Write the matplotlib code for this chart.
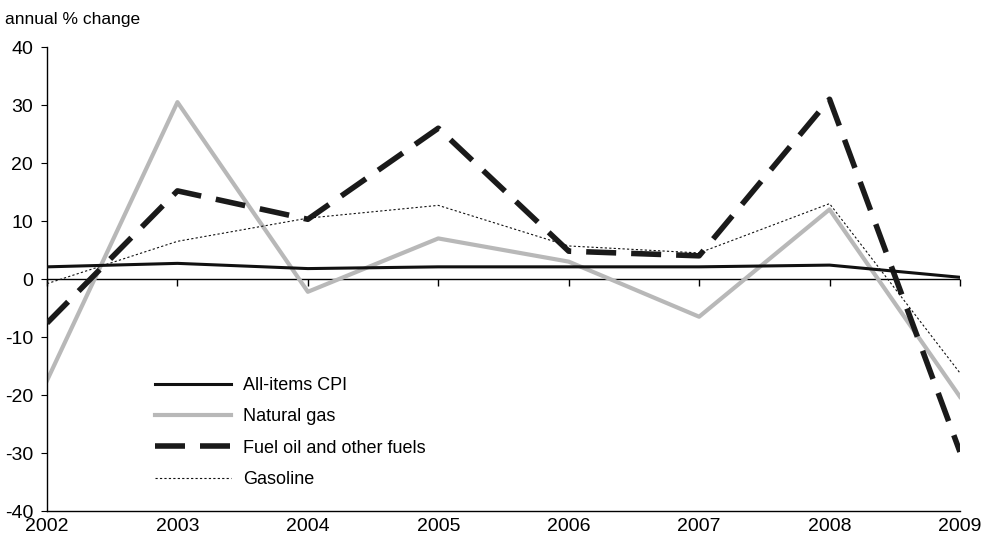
import matplotlib
matplotlib.use("Agg")
import matplotlib.pyplot as plt
from matplotlib import font_manager

years = [2002, 2003, 2004, 2005, 2006, 2007, 2008, 2009]
cpi = [2.1, 2.7, 1.8, 2.1, 2.1, 2.1, 2.4, 0.3]
natural_gas = [-17.5, 30.5, -2.2, 7.0, 3.0, -6.5, 12.0, -20.3]
fuel_oil = [-7.6, 15.2, 10.3, 26.0, 4.8, 4.0, 31.0, -29.8]
gasoline = [-0.8, 6.5, 10.5, 12.7, 5.7, 4.5, 13.0, -16.2]
yticks = [-40, -30, -20, -10, 0, 10, 20, 30, 40]

names = {f.name for f in font_manager.fontManager.ttflist}
fam = "Liberation Sans Narrow" if "Liberation Sans Narrow" in names else "Liberation Sans"
plt.rcParams['font.family'] = [fam, 'DejaVu Sans']
plt.rcParams['axes.unicode_minus'] = False

fig = plt.figure(figsize=(9.92, 5.47), dpi=100)
ax = fig.add_axes([0.0474, 0.0658, 0.9203, 0.8482])

ax.plot(years, cpi, color='#111111', lw=2.2, label='All-items CPI', zorder=4)
ax.plot(years, natural_gas, color='#b8b8b8', lw=3.0, label='Natural gas', zorder=2)
ax.plot(years, fuel_oil, color='#1a1a1a', lw=4.0, dashes=(5.4, 2.7), label='Fuel oil and other fuels', zorder=3)
ax.plot(years, gasoline, color='#111111', lw=0.8, dashes=(2.0, 2.0), label='Gasoline', zorder=3)

ax.axhline(0, color='black', lw=1.0, zorder=1)

ax.set_xlim(2002, 2009)
ax.set_ylim(-40, 40)
ax.set_yticks(yticks)
ax.set_xticks(years)
ax.tick_params(axis='x', length=0, pad=5, labelsize=14)
ax.tick_params(axis='y', direction='out', length=4, pad=6, labelsize=14)
for s in ['top', 'right']:
    ax.spines[s].set_visible(False)
ax.spines['left'].set_linewidth(1.0)
ax.spines['bottom'].set_linewidth(1.0)

sec = ax.secondary_xaxis(0.5)
sec.set_xticks(years)
sec.tick_params(direction='in', length=5, labelbottom=False, labeltop=False, width=1)
sec.spines['bottom'].set_visible(False)
sec.spines['top'].set_visible(False)

fig.text(0.005, 0.965, 'annual % change', fontsize=12.5, ha='left', va='center')

leg = ax.legend(loc='lower left', bbox_to_anchor=(0.1005, 0.014), frameon=False,
                fontsize=13, handlelength=4.2, handletextpad=0.7, labelspacing=0.8)

fig.savefig('out.png', dpi=100)
